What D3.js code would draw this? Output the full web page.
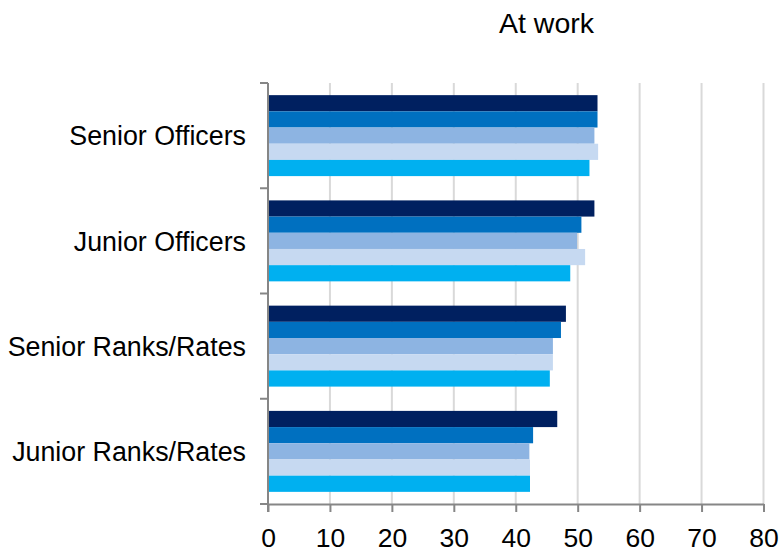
<!DOCTYPE html>
<html>
<head>
<meta charset="utf-8">
<script src="https://cdn.jsdelivr.net/npm/d3@7"></script>
<style>
  html, body { margin: 0; padding: 0; background: #fff; }
  svg { display: block; font-family: "Liberation Sans", Arial, sans-serif; }
</style>
</head>
<body>
<svg id="chart" width="784" height="552"></svg>
<script>
// Categories, top to bottom
const categories = ["Senior Officers", "Junior Officers", "Senior Ranks/Rates", "Junior Ranks/Rates"];
// Five series, drawn top to bottom inside each category
const seriesNames = ["Series 1", "Series 2", "Series 3", "Series 4", "Series 5"];
const seriesColors = ["#002060", "#0070C0", "#8DB4E2", "#C6D9F1", "#00B0F0"];
// Percentage values per series, ordered by category
const series1 = [53.2, 52.7, 48.1, 46.7];
const series2 = [53.2, 50.6, 47.3, 42.8];
const series3 = [52.7, 49.9, 46.0, 42.2];
const series4 = [53.3, 51.2, 46.0, 42.3];
const series5 = [51.9, 48.8, 45.5, 42.3];
const xTicks = [0, 10, 20, 30, 40, 50, 60, 70, 80];
const title = "At work";

const seriesValues = [series1, series2, series3, series4, series5];

const svg = d3.select("#chart");
const plot = { left: 268, right: 763.5, top: 83, bottom: 504 };

const x = d3.scaleLinear().domain([0, 80]).range([plot.left, plot.right]);
const y = d3.scaleBand().domain(categories).range([plot.top, plot.bottom]).padding(0);
const ySub = d3.scaleBand().domain(seriesNames).range([0, y.bandwidth()])
  .paddingInner(0).paddingOuter(0.75);

// Title
svg.append("text")
  .attr("x", 546.5).attr("y", 33)
  .attr("text-anchor", "middle")
  .attr("font-size", 28.5)
  .attr("fill", "#000")
  .text(title);

// Vertical gridlines
svg.append("g")
  .selectAll("line")
  .data(xTicks.filter(d => d > 0))
  .join("line")
  .attr("x1", d => x(d)).attr("x2", d => x(d))
  .attr("y1", plot.top).attr("y2", plot.bottom)
  .attr("stroke", "#D9D9D9")
  .attr("stroke-width", 2);

// Bars
const groups = svg.append("g")
  .selectAll("g")
  .data(categories)
  .join("g")
  .attr("transform", d => `translate(0,${y(d)})`);

groups.selectAll("rect")
  .data((c, ci) => seriesNames.map((s, si) => ({ s, si, v: seriesValues[si][ci] })))
  .join("rect")
  .attr("x", x(0))
  .attr("y", d => ySub(d.s))
  .attr("width", d => x(d.v) - x(0))
  .attr("height", ySub.bandwidth())
  .attr("fill", d => seriesColors[d.si]);

// X axis
const xAxis = svg.append("g")
  .attr("transform", `translate(0,${plot.bottom})`)
  .call(d3.axisBottom(x).tickValues(xTicks).tickSize(8).tickPadding(16).tickSizeOuter(0));
xAxis.select(".domain").attr("stroke", "#868686").attr("stroke-width", 2);
xAxis.selectAll(".tick line").attr("stroke", "#868686").attr("stroke-width", 2);
xAxis.selectAll(".tick text")
  .attr("font-size", 26.5)
  .attr("font-family", "'Liberation Sans', Arial, sans-serif")
  .attr("fill", "#000");

// Y axis: category separators as ticks
const yAxisG = svg.append("g");
yAxisG.append("line")
  .attr("x1", plot.left).attr("x2", plot.left)
  .attr("y1", plot.top).attr("y2", plot.bottom + 8)
  .attr("stroke", "#868686").attr("stroke-width", 2);
const boundaries = categories.map(c => y(c)).concat([plot.bottom]);
yAxisG.selectAll("line.sep")
  .data(boundaries)
  .join("line")
  .attr("class", "sep")
  .attr("x1", plot.left - 8).attr("x2", plot.left)
  .attr("y1", d => d).attr("y2", d => d)
  .attr("stroke", "#868686").attr("stroke-width", 2);

// Category labels
yAxisG.selectAll("text")
  .data(categories)
  .join("text")
  .attr("x", 246)
  .attr("y", d => y(d) + y.bandwidth() / 2)
  .attr("dy", "0.36em")
  .attr("text-anchor", "end")
  .attr("font-size", 26.8)
  .attr("fill", "#000")
  .text(d => d);
</script>
</body>
</html>
